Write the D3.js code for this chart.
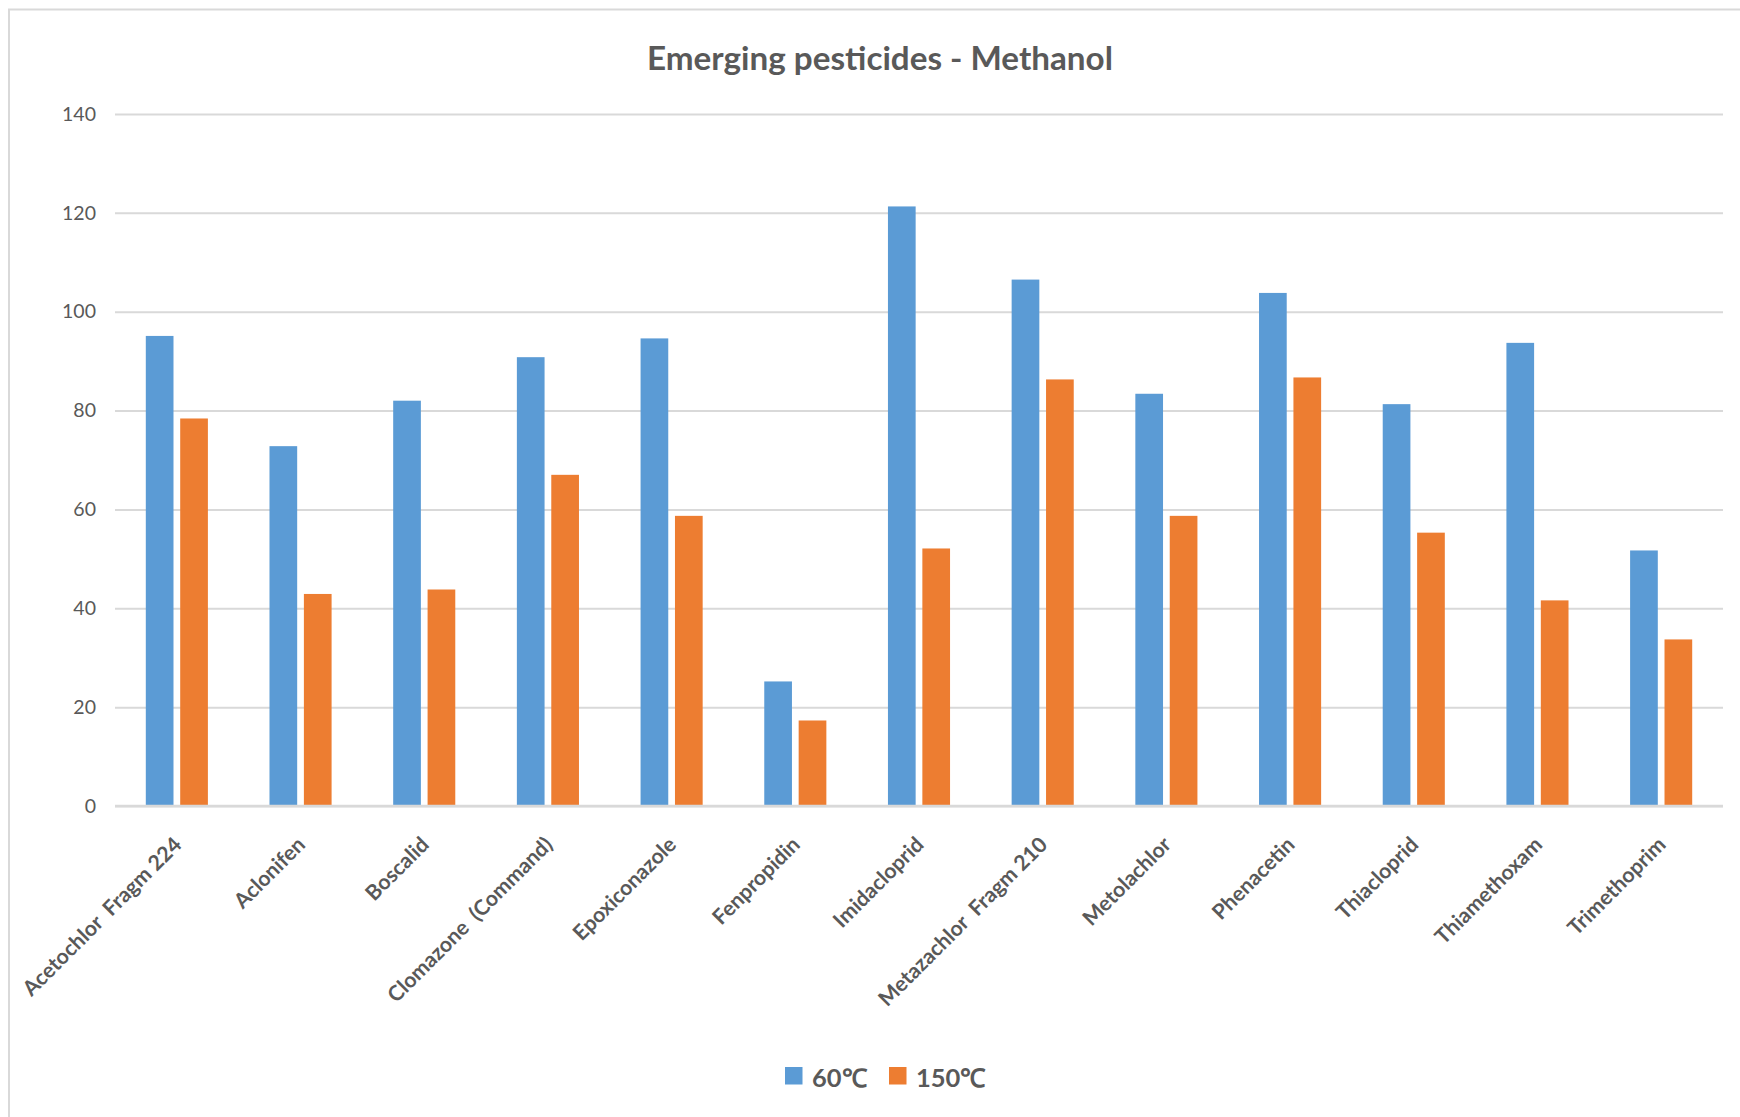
<!DOCTYPE html>
<html>
<head>
<meta charset="utf-8">
<script src="https://cdn.jsdelivr.net/npm/d3@7"></script>
<style>
  html, body { margin: 0; padding: 0; background: #ffffff; }
  svg { display: block; }
  text { font-family: Lato, "Open Sans", sans-serif; fill: #595959; }
</style>
</head>
<body>
<svg id="chart" width="1740" height="1117"></svg>
<script>
// ---- data ----
const categories = [
  "Acetochlor  Fragm 224", "Aclonifen", "Boscalid", "Clomazone  (Command)",
  "Epoxiconazole", "Fenpropidin", "Imidacloprid", "Metazachlor  Fragm 210",
  "Metolachlor", "Phenacetin", "Thiacloprid", "Thiamethoxam", "Trimethoprim"
];
const seriesNames = ["60℃", "150℃"];
const values60 = [95.1, 72.8, 82.0, 90.8, 94.6, 25.2, 121.3, 106.5, 83.4, 103.8, 81.3, 93.7, 51.7];
const values150 = [78.4, 42.9, 43.8, 67.0, 58.7, 17.3, 52.1, 86.3, 58.7, 86.7, 55.3, 41.6, 33.7];
const yTicks = [0, 20, 40, 60, 80, 100, 120, 140];
const titleText = "Emerging pesticides - Methanol";

// ---- layout ----
const W = 1740, H = 1117;
const plot = { left: 115, right: 1723, top: 114, bottom: 806 };
const colors = ["#5B9BD5", "#ED7D31"];

const svg = d3.select("#chart");

function fitWidth(sel, target) {
  const len = sel.node().getComputedTextLength();
  const fs = parseFloat(sel.attr("font-size"));
  sel.attr("font-size", fs * target / len);
  return fs * target / len;
}

// chart border
svg.append("rect")
  .attr("x", 9).attr("y", 9.5)
  .attr("width", W + 50).attr("height", H + 50)
  .attr("fill", "none").attr("stroke", "#D9D9D9").attr("stroke-width", 2);

const x0 = d3.scaleBand().domain(categories).range([plot.left, plot.right])
  .paddingInner(0.498).paddingOuter(0.249);
const x1 = d3.scaleBand().domain(seriesNames).range([0, x0.bandwidth()])
  .paddingInner(0.195);
const y = d3.scaleLinear().domain([0, 140]).range([plot.bottom, plot.top]);

// gridlines
const yAxis = d3.axisLeft(y).tickValues(yTicks)
  .tickSize(-(plot.right - plot.left)).tickPadding(19).tickFormat(d3.format("d"));
const gy = svg.append("g").attr("transform", `translate(${plot.left},0)`).call(yAxis);
gy.select(".domain").remove();
gy.selectAll(".tick line").attr("stroke", "#D9D9D9").attr("stroke-width", 2);
gy.selectAll(".tick text")
  .attr("font-size", 20).attr("fill", "#595959")
  .attr("font-family", "Lato, sans-serif");
{
  const t = gy.selectAll(".tick text").filter(d => d === 140);
  const fs = fitWidth(t, 34);
  gy.selectAll(".tick text").attr("font-size", fs);
}

// bars
const series = [values60, values150];
const groups = svg.append("g").selectAll("g").data(categories).join("g")
  .attr("transform", d => `translate(${x0(d)},0)`);
groups.selectAll("rect")
  .data((d, i) => seriesNames.map((s, k) => ({ s, v: series[k][i], k })))
  .join("rect")
  .attr("x", d => x1(d.s))
  .attr("width", x1.bandwidth())
  .attr("y", d => y(d.v))
  .attr("height", d => y(0) - y(d.v))
  .attr("fill", d => colors[d.k]);

// x axis line + labels (keep double spaces via no-break space)
const xAxis = d3.axisBottom(x0).tickSize(0).tickSizeOuter(0)
  .tickFormat(d => d.replace(/  /g, " \u00A0"));
const gx = svg.append("g").attr("transform", `translate(0,${plot.bottom})`).call(xAxis);
gx.select(".domain").attr("stroke", "#D9D9D9").attr("stroke-width", 2.5)
  .attr("d", `M${plot.left},0H${plot.right}`);
gx.selectAll(".tick text")
  .attr("font-size", 20)
  .attr("font-weight", "bold")
  .attr("fill", "#595959")
  .attr("font-family", "Lato, sans-serif")
  .attr("text-anchor", "end")
  .attr("dy", null)
  .attr("y", 0)
  .attr("transform", "translate(6,40) rotate(-45)");
{
  const t = gx.selectAll(".tick text").filter(d => d === categories[0]);
  const fs = fitWidth(t, 214);
  gx.selectAll(".tick text").attr("font-size", fs);
}

// title
const title = svg.append("text")
  .attr("x", (647 + 1113) / 2).attr("y", 70)
  .attr("text-anchor", "middle")
  .attr("font-size", 30).attr("font-weight", "bold")
  .text(titleText);
fitWidth(title, 466);

// legend
const legendItems = [
  { name: seriesNames[0], color: colors[0], sx: 785, tx: 812, w: 55 },
  { name: seriesNames[1], color: colors[1], sx: 889, tx: 916, w: 70 }
];
const lg = svg.append("g");
legendItems.forEach(it => {
  lg.append("rect").attr("x", it.sx).attr("y", 1067).attr("width", 17.5).attr("height", 17.5)
    .attr("fill", it.color);
  const t = lg.append("text").attr("x", it.tx).attr("y", 1087)
    .attr("font-size", 26).attr("font-weight", "bold").text(it.name);
  fitWidth(t, it.w);
});
</script>
</body>
</html>
